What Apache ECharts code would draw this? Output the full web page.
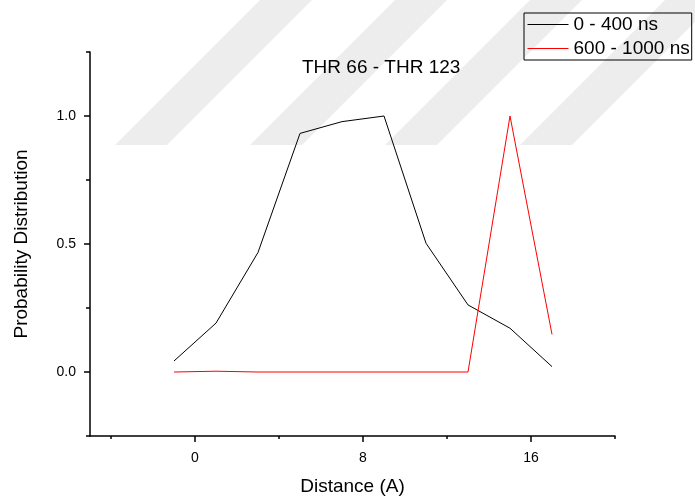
<!DOCTYPE html>
<html>
<head>
<meta charset="utf-8">
<script src="https://cdn.jsdelivr.net/npm/echarts@6/dist/echarts.min.js"></script>
<style>
html,body{margin:0;padding:0;background:#fff;}
#chart{width:695px;height:498px;}
</style>
</head>
<body>
<div id="chart"></div>
<script>
// ---- data ----
var distances = [-1, 1, 3, 5, 7, 9, 11, 13, 15, 17];
var series0to400 = [0.043, 0.191, 0.467, 0.932, 0.978, 1.0, 0.503, 0.262, 0.171, 0.021];
var series600to1000 = [0, 0.003, 0, 0, 0, 0, 0, 0, 1.0, 0.147];
var seriesNames = ['0 - 400 ns', '600 - 1000 ns'];
var xMajorTicks = [0, 8, 16];
var xMinorTicks = [-4, 4, 12, 20];
var yMajorTicks = [0, 0.5, 1.0];
var yMinorTicks = [-0.25, 0.25, 0.75, 1.25];
var chartTitle = 'THR 66 - THR 123';
var xTitle = 'Distance (A)';
var yTitle = 'Probability Distribution';

function pairs(xs, ys) { return xs.map(function (x, i) { return [x, ys[i]]; }); }

var FONT = 'Arial, "Liberation Sans", sans-serif';
var chart = echarts.init(document.getElementById('chart'), null, {renderer: 'canvas'});

// watermark stripes (background decoration)
var stripeStarts = [115, 250, 385, 520];
var stripes = stripeStarts.map(function (x0) {
  return {
    type: 'polygon', z: -10, silent: true,
    shape: {points: [[x0, 145], [x0 + 52, 145], [x0 + 52 + 150, -5], [x0 + 150, -5]]},
    style: {fill: 'rgba(0,0,0,0.07)'}
  };
});

var xBase = {type: 'value', min: -5, max: 20, position: 'bottom', splitLine: {show: false}};
var yBase = {type: 'value', min: -0.25, max: 1.25, position: 'left', splitLine: {show: false}};

chart.setOption({
  backgroundColor: '#fff',
  animation: false,
  graphic: stripes,
  title: {
    text: chartTitle, left: 297, top: 53,
    textStyle: {fontFamily: FONT, fontSize: 19, fontWeight: 'normal', color: '#000'}
  },
  legend: {
    orient: 'vertical', left: 524, top: 13,
    data: seriesNames,
    borderColor: '#000', borderWidth: 1, borderRadius: 0,
    padding: [2, 2, 2, 3],
    itemWidth: 41, itemHeight: 19, itemGap: 5,
    itemStyle: {opacity: 0},
    lineStyle: {width: 1},
    textStyle: {fontFamily: FONT, fontSize: 19, color: '#000'}
  },
  grid: {left: 90, right: 80, top: 52, bottom: 62, containLabel: false, outerBoundsMode: 'none'},
  xAxis: [
    Object.assign({}, xBase, {
      name: xTitle, nameLocation: 'middle', nameGap: 41,
      nameTextStyle: {fontFamily: FONT, fontSize: 19, color: '#000'},
      axisLine: {show: true, onZero: false, lineStyle: {color: '#000', width: 1.5}},
      axisTick: {show: true, inside: false, length: 6, customValues: xMajorTicks, lineStyle: {color: '#000', width: 1.5}},
      axisLabel: {show: true, margin: 15, customValues: xMajorTicks, fontFamily: FONT, fontSize: 14, color: '#000',
        formatter: function (v) { return String(v); }}
    }),
    Object.assign({}, xBase, {
      axisLine: {show: false, onZero: false},
      axisTick: {show: true, inside: false, length: 3, customValues: xMinorTicks, lineStyle: {color: '#000', width: 1.5}},
      axisLabel: {show: false}
    })
  ],
  yAxis: [
    Object.assign({}, yBase, {
      name: yTitle, nameLocation: 'middle', nameGap: 59, nameRotate: 90,
      nameTextStyle: {fontFamily: FONT, fontSize: 19, color: '#000'},
      axisLine: {show: true, onZero: false, lineStyle: {color: '#000', width: 1.5}},
      axisTick: {show: true, inside: false, length: 6, customValues: yMajorTicks, lineStyle: {color: '#000', width: 1.5}},
      axisLabel: {show: true, margin: 14, customValues: yMajorTicks, fontFamily: FONT, fontSize: 14, color: '#000',
        formatter: function (v) { return v.toFixed(1); }}
    }),
    Object.assign({}, yBase, {
      axisLine: {show: false, onZero: false},
      axisTick: {show: true, inside: false, length: 4, customValues: yMinorTicks, lineStyle: {color: '#000', width: 1.5}},
      axisLabel: {show: false}
    })
  ],
  series: [
    {
      name: seriesNames[0], type: 'line', xAxisIndex: 0, yAxisIndex: 0,
      data: pairs(distances, series0to400),
      symbol: 'none', color: '#000',
      lineStyle: {color: '#000', width: 1}
    },
    {
      name: seriesNames[1], type: 'line', xAxisIndex: 0, yAxisIndex: 0,
      data: pairs(distances, series600to1000),
      symbol: 'none', color: '#ff0000',
      lineStyle: {color: '#ff0000', width: 1}
    }
  ]
});
</script>
</body>
</html>
